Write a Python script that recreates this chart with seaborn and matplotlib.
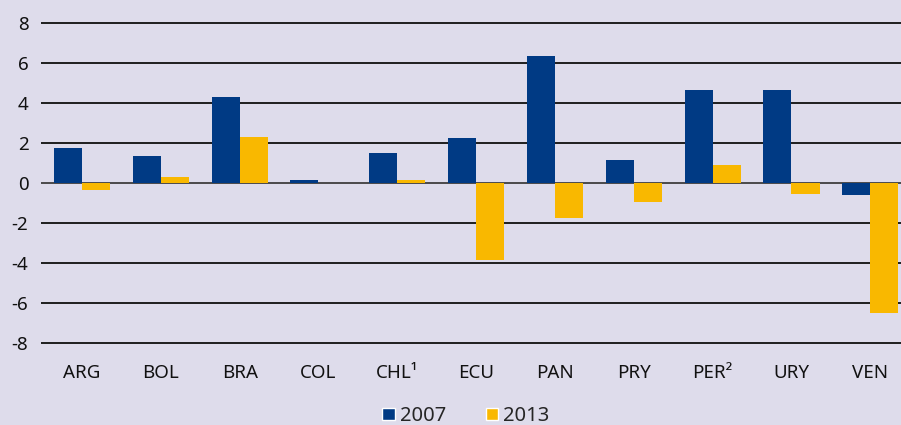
import numpy as np
import pandas as pd
import matplotlib
matplotlib.use("Agg")
import matplotlib.pyplot as plt
import seaborn as sns
from matplotlib.patches import Patch

# values
countries = ["ARG", "BOL", "BRA", "COL", "CHL¹", "ECU", "PAN", "PRY", "PER²", "URY", "VEN"]
vals_2007 = [1.75, 1.35, 4.3, 0.15, 1.5, 2.25, 6.35, 1.15, 4.65, 4.65, -0.6]
vals_2013 = [-0.35, 0.3, 2.3, 0.0, 0.15, -3.85, -1.75, -0.95, 0.9, -0.55, -6.5]
years = ["2007", "2013"]

navy = "#003A84"
gold = "#F9B800"
bg = "#DEDCEB"

df = pd.DataFrame({
    "country": countries * 2,
    "year": [years[0]] * len(countries) + [years[1]] * len(countries),
    "value": vals_2007 + vals_2013,
})

sns.set_style("white")
plt.rcParams["font.family"] = ["Noto Sans", "DejaVu Sans"]
plt.rcParams["axes.unicode_minus"] = False

fig = plt.figure(figsize=(9.01, 4.25), dpi=100, facecolor=bg)
ax = fig.add_axes([41 / 901, 1 - 352.5 / 425, 860 / 901, 339.6 / 425])
ax.set_facecolor(bg)

sns.barplot(data=df, x="country", y="value", hue="year", order=countries,
            palette=[navy, gold], saturation=1, width=0.713, ax=ax,
            legend=False, linewidth=0)

ax.set_ylim(-8.5, 8.5)
ax.set_xlim(-0.52, 10.39)
ax.set_yticks(np.arange(-8, 9, 2))
for yv in np.arange(-8, 9, 2):
    ax.axhline(yv, color="#1e1e1e" if yv != 0 else "#4a4a4a", lw=1.4, zorder=0)

for s in ax.spines.values():
    s.set_visible(False)
ax.set_xlabel("")
ax.set_ylabel("")
ax.tick_params(axis="y", length=0, pad=9, labelsize=13.5, labelcolor="#111111")
ax.tick_params(axis="x", length=0, pad=8, labelsize=13.5, labelcolor="#111111")

handles = [Patch(facecolor=navy, label="2007"), Patch(facecolor=gold, label="2013")]
fig.legend(handles=handles, loc="lower center", bbox_to_anchor=(466 / 901, -0.045),
           ncol=2, frameon=False, fontsize=14.5, handlelength=0.6, handleheight=0.6,
           handletextpad=0.25, columnspacing=2.0)

fig.savefig("out.png", dpi=100, facecolor=bg)
